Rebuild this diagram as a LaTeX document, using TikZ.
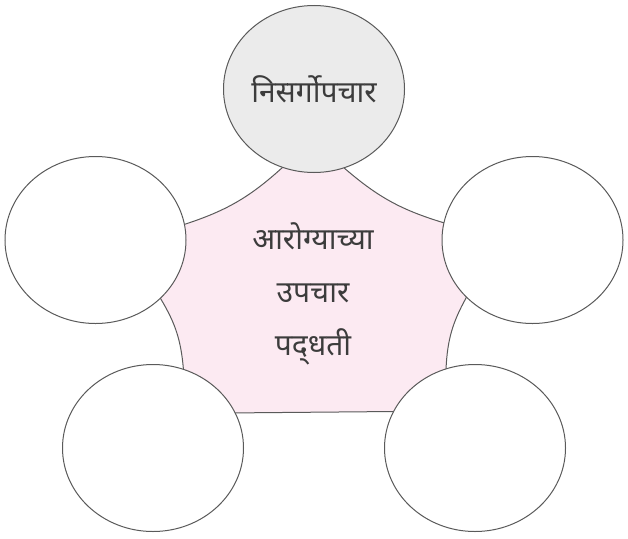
\documentclass[tikz,border=0pt]{standalone}
\usepackage{fontspec}
\newfontfamily\devfont[Script=Devanagari]{Noto Sans}
\usetikzlibrary{shapes}
\usetikzlibrary{backgrounds}
\definecolor{rimgray}{HTML}{5A5A5A}
\definecolor{inkgray}{HTML}{3C3C3C}
\definecolor{hubpink}{HTML}{FCEAF2}
\definecolor{topgray}{HTML}{EBEBEB}

\begin{document}
\begin{tikzpicture}[
		x = 1pt, y = -1pt,
		bubble/.style={ellipse, draw=rimgray, line width=1pt, fill=white, minimum width=181pt, minimum height=167pt, inner sep=0pt},
		hub/.style={fill=hubpink, draw=rimgray, line width=1pt, line join=round},
		marathi/.style={text=inkgray, font=\devfont\fontsize{30}{53}\selectfont, align=center},
		]
	\useasboundingbox (0,0) rectangle (628,538);
	\node (top) [bubble, fill=topgray] at (314,89) {};
	\node (left) [bubble] at (95.5,240) {};
	\node (right) [bubble] at (532.5,240) {};
	\node (botleft) [bubble] at (153,448) {};
	\node (botright) [bubble] at (475,448) {};
	\begin{scope}[on background layer]
	\draw[hub] (top.248.6) to[bend left=12] (left.10.8) -- (left.center) -- (left.318.5)
		to[bend left=13] (botleft.69.8) -- (botleft.center) -- (botleft.23.1)
		-- (botright.156.9) -- (botright.center) -- (botright.110.2)
		to[bend left=13] (right.221.5) -- (right.center) -- (right.169.2)
		to[bend left=12] (top.291.4) -- (top.center) -- cycle;
	\end{scope}
	\node (toplabel) [marathi] at (top.center) {निसर्गोपचार};
	\node (hublabel) [marathi] at (313,294) {आरोग्याच्या\\उपचार\\पद्^^^^200cधती};
\end{tikzpicture}
\end{document}
